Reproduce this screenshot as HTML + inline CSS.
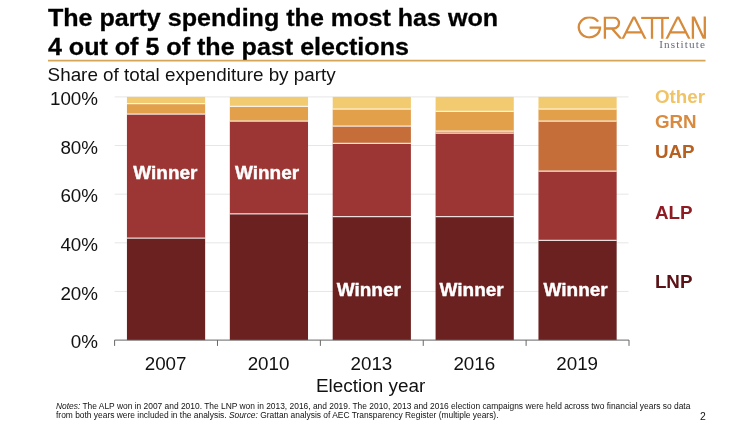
<!DOCTYPE html><html><head><meta charset="utf-8"><title>Chart</title><style>html,body{margin:0;padding:0;background:#fff}body{width:754px;height:424px;overflow:hidden}svg{display:block;will-change:transform;opacity:0.999}text{font-family:"Liberation Sans",sans-serif}</style></head><body>
<svg width="754" height="424" viewBox="0 0 754 424">
<text x="47.9" y="25.8" transform="matrix(1 0 0 0.95 0 1.29)" font-size="25.1" font-weight="bold" fill="#000" stroke="#000" stroke-width="0.3">The party spending the most has won</text>
<text x="47.9" y="54.8" transform="matrix(1 0 0 0.95 0 2.74)" font-size="25.1" font-weight="bold" fill="#000" stroke="#000" stroke-width="0.3">4 out of 5 of the past elections</text>
<line x1="48" y1="60.7" x2="705.5" y2="60.7" stroke="#d6a556" stroke-width="1.8"/>
<text x="47.6" y="80.9" font-size="18.85" fill="#111">Share of total expenditure by party</text>
<line x1="114.6" y1="291.46" x2="628.5" y2="291.46" stroke="#e6e6e6" stroke-width="1"/>
<line x1="114.6" y1="242.82" x2="628.5" y2="242.82" stroke="#e6e6e6" stroke-width="1"/>
<line x1="114.6" y1="194.18" x2="628.5" y2="194.18" stroke="#e6e6e6" stroke-width="1"/>
<line x1="114.6" y1="145.54" x2="628.5" y2="145.54" stroke="#e6e6e6" stroke-width="1"/>
<line x1="114.6" y1="96.90" x2="628.5" y2="96.90" stroke="#e6e6e6" stroke-width="1"/>
<rect x="126.94" y="238.10" width="78.2" height="102.00" fill="#6a2120"/>
<rect x="126.94" y="114.10" width="78.2" height="124.00" fill="#9c3634"/>
<rect x="126.94" y="103.50" width="78.2" height="10.60" fill="#e2a04b"/>
<rect x="126.94" y="96.90" width="78.2" height="6.60" fill="#f2cb70"/>
<line x1="126.94" y1="103.50" x2="205.14" y2="103.50" stroke="#fff" stroke-width="1.25" stroke-opacity="0.8"/>
<line x1="126.94" y1="114.10" x2="205.14" y2="114.10" stroke="#fff" stroke-width="1.25" stroke-opacity="0.8"/>
<line x1="126.94" y1="238.10" x2="205.14" y2="238.10" stroke="#fff" stroke-width="1.25" stroke-opacity="0.8"/>
<rect x="229.82" y="213.80" width="78.2" height="126.30" fill="#6a2120"/>
<rect x="229.82" y="121.10" width="78.2" height="92.70" fill="#9c3634"/>
<rect x="229.82" y="106.30" width="78.2" height="14.80" fill="#e2a04b"/>
<rect x="229.82" y="96.90" width="78.2" height="9.40" fill="#f2cb70"/>
<line x1="229.82" y1="106.30" x2="308.02" y2="106.30" stroke="#fff" stroke-width="1.25" stroke-opacity="0.8"/>
<line x1="229.82" y1="121.10" x2="308.02" y2="121.10" stroke="#fff" stroke-width="1.25" stroke-opacity="0.8"/>
<line x1="229.82" y1="213.80" x2="308.02" y2="213.80" stroke="#fff" stroke-width="1.25" stroke-opacity="0.8"/>
<rect x="332.70" y="216.60" width="78.2" height="123.50" fill="#6a2120"/>
<rect x="332.70" y="143.30" width="78.2" height="73.30" fill="#9c3634"/>
<rect x="332.70" y="126.10" width="78.2" height="17.20" fill="#c66e3a"/>
<rect x="332.70" y="109.00" width="78.2" height="17.10" fill="#e2a04b"/>
<rect x="332.70" y="96.90" width="78.2" height="12.10" fill="#f2cb70"/>
<line x1="332.70" y1="109.00" x2="410.90" y2="109.00" stroke="#fff" stroke-width="1.25" stroke-opacity="0.8"/>
<line x1="332.70" y1="126.10" x2="410.90" y2="126.10" stroke="#fff" stroke-width="1.25" stroke-opacity="0.8"/>
<line x1="332.70" y1="143.30" x2="410.90" y2="143.30" stroke="#fff" stroke-width="1.25" stroke-opacity="0.8"/>
<line x1="332.70" y1="216.60" x2="410.90" y2="216.60" stroke="#fff" stroke-width="1.25" stroke-opacity="0.8"/>
<rect x="435.58" y="216.60" width="78.2" height="123.50" fill="#6a2120"/>
<rect x="435.58" y="133.20" width="78.2" height="83.40" fill="#9c3634"/>
<rect x="435.58" y="131.20" width="78.2" height="2.00" fill="#c66e3a"/>
<rect x="435.58" y="111.30" width="78.2" height="19.90" fill="#e2a04b"/>
<rect x="435.58" y="96.90" width="78.2" height="14.40" fill="#f2cb70"/>
<line x1="435.58" y1="111.30" x2="513.78" y2="111.30" stroke="#fff" stroke-width="1.25" stroke-opacity="0.8"/>
<line x1="435.58" y1="131.20" x2="513.78" y2="131.20" stroke="#fff" stroke-width="1.25" stroke-opacity="0.8"/>
<line x1="435.58" y1="133.20" x2="513.78" y2="133.20" stroke="#fff" stroke-width="1.25" stroke-opacity="0.8"/>
<line x1="435.58" y1="216.60" x2="513.78" y2="216.60" stroke="#fff" stroke-width="1.25" stroke-opacity="0.8"/>
<rect x="538.46" y="240.40" width="78.2" height="99.70" fill="#6a2120"/>
<rect x="538.46" y="171.20" width="78.2" height="69.20" fill="#9c3634"/>
<rect x="538.46" y="121.10" width="78.2" height="50.10" fill="#c66e3a"/>
<rect x="538.46" y="109.00" width="78.2" height="12.10" fill="#e2a04b"/>
<rect x="538.46" y="96.90" width="78.2" height="12.10" fill="#f2cb70"/>
<line x1="538.46" y1="109.00" x2="616.66" y2="109.00" stroke="#fff" stroke-width="1.25" stroke-opacity="0.8"/>
<line x1="538.46" y1="121.10" x2="616.66" y2="121.10" stroke="#fff" stroke-width="1.25" stroke-opacity="0.8"/>
<line x1="538.46" y1="171.20" x2="616.66" y2="171.20" stroke="#fff" stroke-width="1.25" stroke-opacity="0.8"/>
<line x1="538.46" y1="240.40" x2="616.66" y2="240.40" stroke="#fff" stroke-width="1.25" stroke-opacity="0.8"/>
<path d="M114.6 340.1 H629" stroke="#666" stroke-width="1" fill="none"/>
<line x1="114.60" y1="340.1" x2="114.60" y2="345.90000000000003" stroke="#666" stroke-width="1"/>
<line x1="217.48" y1="340.1" x2="217.48" y2="345.90000000000003" stroke="#666" stroke-width="1"/>
<line x1="320.36" y1="340.1" x2="320.36" y2="345.90000000000003" stroke="#666" stroke-width="1"/>
<line x1="423.24" y1="340.1" x2="423.24" y2="345.90000000000003" stroke="#666" stroke-width="1"/>
<line x1="526.12" y1="340.1" x2="526.12" y2="345.90000000000003" stroke="#666" stroke-width="1"/>
<line x1="629.00" y1="340.1" x2="629.00" y2="345.90000000000003" stroke="#666" stroke-width="1"/>
<text x="98" y="348.30" font-size="18.8" text-anchor="end" fill="#111">0%</text>
<text x="98" y="299.66" font-size="18.8" text-anchor="end" fill="#111">20%</text>
<text x="98" y="251.02" font-size="18.8" text-anchor="end" fill="#111">40%</text>
<text x="98" y="202.38" font-size="18.8" text-anchor="end" fill="#111">60%</text>
<text x="98" y="153.74" font-size="18.8" text-anchor="end" fill="#111">80%</text>
<text x="98" y="105.10" font-size="18.8" text-anchor="end" fill="#111">100%</text>
<text x="165.64" y="370.4" font-size="18.8" text-anchor="middle" fill="#111">2007</text>
<text x="268.52" y="370.4" font-size="18.8" text-anchor="middle" fill="#111">2010</text>
<text x="371.40" y="370.4" font-size="18.8" text-anchor="middle" fill="#111">2013</text>
<text x="474.28" y="370.4" font-size="18.8" text-anchor="middle" fill="#111">2016</text>
<text x="577.16" y="370.4" font-size="18.8" text-anchor="middle" fill="#111">2019</text>
<text x="370.6" y="392.1" font-size="18.9" text-anchor="middle" fill="#111">Election year</text>
<text x="133.29999999999998" y="179.3" font-size="19" font-weight="bold" fill="#fff" stroke="#fff" stroke-width="0.4">Winner</text>
<text x="234.89999999999998" y="179.3" font-size="19" font-weight="bold" fill="#fff" stroke="#fff" stroke-width="0.4">Winner</text>
<text x="336.7" y="295.7" font-size="19" font-weight="bold" fill="#fff" stroke="#fff" stroke-width="0.4">Winner</text>
<text x="439.5" y="295.7" font-size="19" font-weight="bold" fill="#fff" stroke="#fff" stroke-width="0.4">Winner</text>
<text x="543.5" y="295.7" font-size="19" font-weight="bold" fill="#fff" stroke="#fff" stroke-width="0.4">Winner</text>
<text x="654.9" y="102.7" font-size="18.8" font-weight="bold" fill="#f0c466">Other</text>
<text x="654.9" y="128" font-size="18.8" font-weight="bold" fill="#d98a3e">GRN</text>
<text x="654.9" y="158.1" font-size="18.8" font-weight="bold" fill="#b8601f">UAP</text>
<text x="654.9" y="219.3" font-size="18.8" font-weight="bold" fill="#8e1c22">ALP</text>
<text x="654.9" y="288.2" font-size="18.8" font-weight="bold" fill="#5a1216">LNP</text>
<defs><clipPath id="lg"><rect x="570" y="16.6" width="140" height="22.1"/></clipPath></defs>
<g clip-path="url(#lg)" fill="none" stroke="#d68a3c" stroke-width="2.3" stroke-linejoin="miter" stroke-miterlimit="10" stroke-linecap="butt">
<path d="M598.1 21.6 A10.6 10 0 1 0 600 27.6 H589.6"/>
<path d="M604.9 39 V17.7 H613.6 A5.4 5.4 0 0 1 613.6 28.5 H604.9 M611.9 28.5 L621.2 39"/>
<path d="M622.4 39.4 L634 16.6 L645.6 39.4 M626 32.3 H642"/>
<path d="M641.2 17.9 H669 M652 17.9 V39 M662.3 17.9 V39"/>
<path d="M666.4 39.4 L678 16.6 L689.6 39.4 M670 32.3 H686"/>
<path d="M692.9 39 V15 L704.8 40.5 V16"/>
</g>
<text x="659.2" y="48.3" font-size="11.2" style="font-family:'Liberation Serif',serif" letter-spacing="1.15" fill="#686a7a">Institute</text>
<text x="56" y="409.1" font-size="8.41" fill="#111"><tspan font-style="italic">Notes:</tspan> The ALP won in 2007 and 2010. The LNP won in 2013, 2016, and 2019. The 2010, 2013 and 2016 election campaigns were held across two financial years so data</text>
<text x="56" y="418.1" font-size="8.41" fill="#111">from both years were included in the analysis. <tspan font-style="italic">Source:</tspan> Grattan analysis of AEC Transparency Register (multiple years).</text>
<text x="700" y="420" font-size="10.4" fill="#111">2</text>
</svg></body></html>
